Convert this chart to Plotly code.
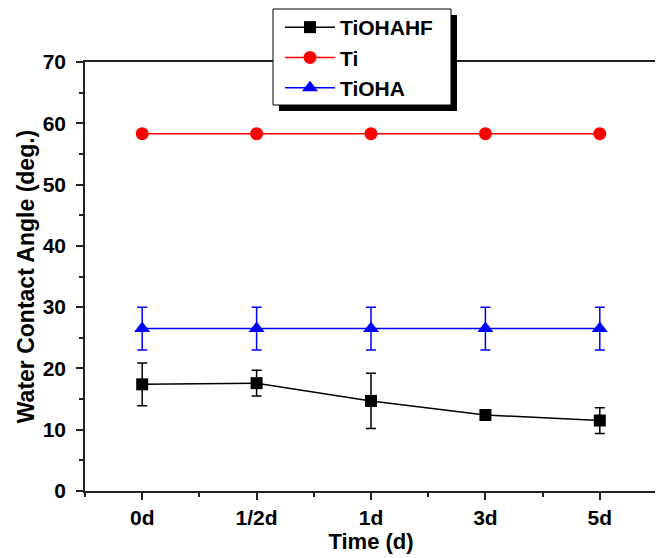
import plotly.graph_objects as go

categories = ["0d", "1/2d", "1d", "3d", "5d"]
tiohahf = [17.4, 17.6, 14.7, 12.4, 11.5]
tiohahf_err = [3.5, 2.1, 4.5, 0.3, 2.1]
ti = [58.3, 58.3, 58.3, 58.3, 58.3]
tioha = [26.5, 26.5, 26.5, 26.5, 26.5]
tioha_err = [3.5, 3.5, 3.5, 3.5, 3.5]

xs = list(range(len(categories)))
FONT = "Liberation Sans, Arial, sans-serif"

fig = go.Figure()
fig.add_trace(go.Scatter(
    x=xs, y=tiohahf, name="<b>TiOHAHF</b>", mode="lines+markers",
    line=dict(color="black", width=1.5),
    marker=dict(symbol="square", size=12, color="black"),
    error_y=dict(type="data", array=tiohahf_err, color="black", thickness=1.5, width=5),
))
fig.add_trace(go.Scatter(
    x=xs, y=ti, name="<b>Ti</b>", mode="lines+markers",
    line=dict(color="red", width=1.5),
    marker=dict(symbol="circle", size=13, color="red"),
))
fig.add_trace(go.Scatter(
    x=xs, y=tioha, name="<b>TiOHA</b>", mode="lines+markers",
    line=dict(color="blue", width=1.5),
    marker=dict(symbol="triangle-up", size=14, color="blue"),
    error_y=dict(type="data", array=tioha_err, color="blue", thickness=1.5, width=5),
))

# page body adds an 8px offset; figure coordinates are screen - 8
OFF = 8
W, H = 663 - OFF, 558 - OFF
L, T = 85 - OFF, 62 - OFF
R = W - (657 - OFF)
B = H - (491 - OFF)
pw, ph = W - L - R, H - T - B

def px(xs_):
    return (xs_ - OFF - L) / pw

def py(ys_):
    return (H - B - (ys_ - OFF)) / ph

# legend box and shadow (screen pixel positions)
lx0, ly0, lx1, ly1 = 273, 9, 451, 105
fig.add_shape(type="rect", xref="paper", yref="paper",
              x0=px(lx0 + 6), x1=px(lx1 + 6), y0=py(ly1 + 6), y1=py(ly0 + 6),
              fillcolor="black", line=dict(width=0), layer="above")
fig.add_shape(type="rect", xref="paper", yref="paper",
              x0=px(lx0), x1=px(lx1), y0=py(ly1), y1=py(ly0),
              fillcolor="white", line=dict(color="black", width=1), layer="above")

fig.update_layout(
    width=W, height=H,
    margin=dict(l=L, r=R, t=T, b=B, autoexpand=False),
    paper_bgcolor="white", plot_bgcolor="white",
    font=dict(family=FONT, color="black"),
    showlegend=True,
    legend=dict(x=px(lx0 + 7), y=py(ly0 - 2), xanchor="left", yanchor="top",
                bgcolor="rgba(0,0,0,0)", borderwidth=0,
                font=dict(family=FONT, size=21, color="black"),
                itemwidth=50, tracegroupgap=0),
    xaxis=dict(
        range=[-0.5, 4.5], tickmode="array", tickvals=xs,
        ticktext=["<b>%s</b>" % c for c in categories],
        showgrid=False, zeroline=False,
        showline=True, linecolor="#222", linewidth=1.5, mirror=True,
        ticks="outside", ticklen=7, tickwidth=1.5, tickcolor="#222",
        minor=dict(tickmode="array", tickvals=[x + 0.5 for x in xs[:-1]] + [-0.5],
                   ticks="outside", ticklen=4, tickwidth=1.5, tickcolor="#222"),
        tickfont=dict(size=21, family=FONT),
        title=dict(text="<b>Time (d)</b>", font=dict(size=22, family=FONT), standoff=6),
    ),
    yaxis=dict(
        range=[0, 70], tickmode="linear", tick0=0, dtick=10,
        tickprefix="<b>", ticksuffix="</b>",
        showgrid=False, zeroline=False,
        showline=True, linecolor="#222", linewidth=1.5, mirror=True,
        ticks="outside", ticklen=7, tickwidth=1.5, tickcolor="#222",
        minor=dict(dtick=5, ticks="outside", ticklen=4, tickwidth=1.5, tickcolor="#222"),
        tickfont=dict(size=21, family=FONT), ticklabelstandoff=6,
        title=dict(text="<b>Water Contact Angle (deg.)</b>", font=dict(size=23, family=FONT), standoff=2),
    ),
)

fig.write_html("out.html")
